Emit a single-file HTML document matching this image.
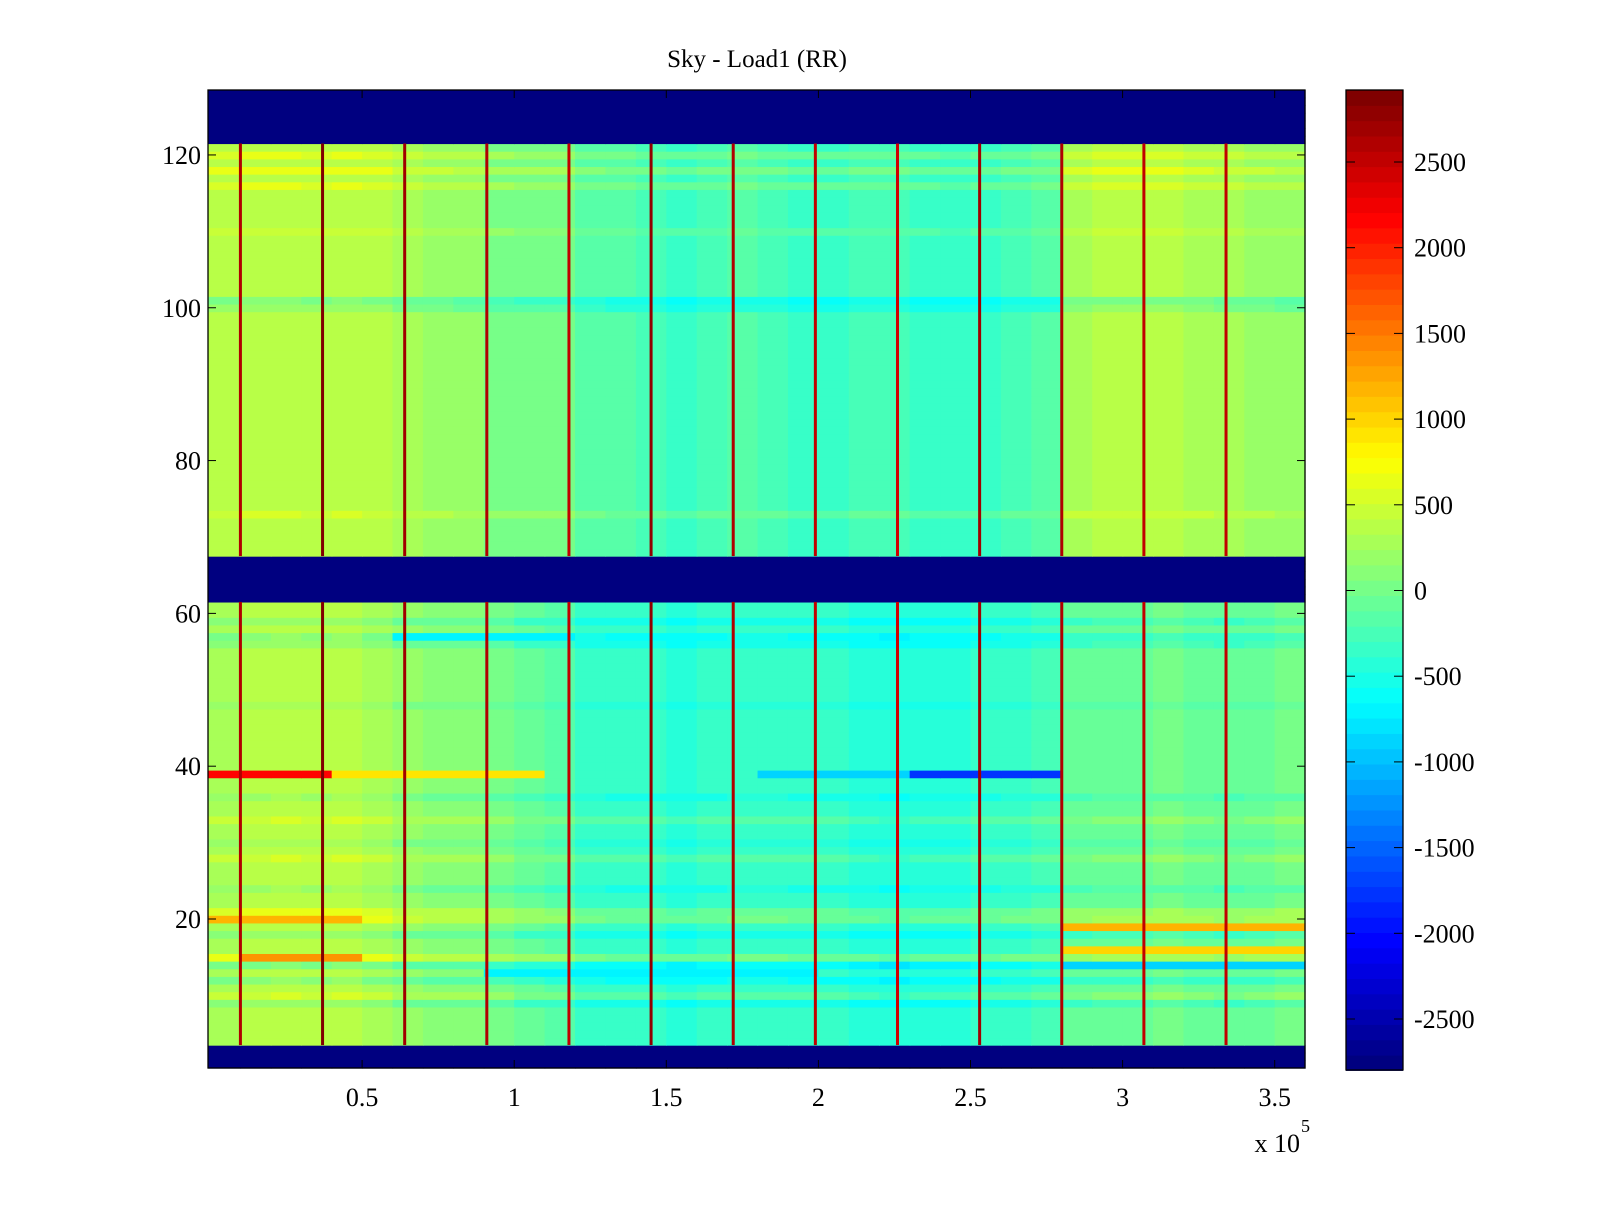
<!DOCTYPE html>
<html><head><meta charset="utf-8"><style>
html,body{margin:0;padding:0;background:#fff;}
svg text{font-family:"Liberation Serif",serif;fill:#000;}
</style></head><body>
<svg id="chart" width="1600" height="1200" viewBox="0 0 1600 1200" xmlns="http://www.w3.org/2000/svg">
<text x="757" y="67" font-size="25" text-anchor="middle">Sky - Load1 (RR)</text>
<g id="cells"></g>
<g id="spikes"></g>
<g id="axes"></g>
<g id="cbar"></g>
</svg>
<script>
// ---- data ----
const vmin = -2800, vmax = 2920;
const xBinCount = 36; // bins of 0.1e5 across 0..3.6e5
const colBiasUpper = [350,400,400,350,400,350,250,200,150,50,0,0,-150,-200,-250,-300,-250,-200,-250,-300,-300,-250,-250,-300,-350,-300,-250,-200,300,350,350,350,300,250,200,150];
const colBiasLower = [300,350,400,350,400,300,150,100,100,0,-100,-150,-300,-350,-350,-400,-350,-300,-300,-350,-350,-400,-450,-400,-400,-350,-300,-250,-100,-50,-50,0,-50,-100,-50,0];
const maskedRows = [[1,3],[62,67],[122,128]];
const rowBias = {120:200,118:250,116:200,110:100,101:-300,100:-200,73:150,59:-200,57:-250,56:-200,48:-100,36:-150,33:150,30:-100,28:150,24:-150,21:250,20:300,18:-200,15:300,14:-300,12:-250,10:150,9:-200};
const stripes = [ // [row, x0(1e5), x1(1e5), value]
 [39,0,0.4,2200],[39,0.4,1.1,900],[39,2.28,2.8,-1800],[39,1.8,2.28,-900],
 [20,0,0.55,1200],[15,0.1,0.5,1400],[19,2.85,3.6,1200],[16,2.85,3.6,1000],[14,2.85,3.6,-900],[13,0.9,2.0,-700],[57,0.6,1.2,-700]
];
const spikePositions = [0.1,0.37,0.64,0.91,1.18,1.45,1.72,1.99,2.26,2.53,2.8,3.07,3.34];
const spikeValues = [2600,2900,2700,2600,2500,2800,2600,2500,2400,2700,2600,2500,2500];
const yTicks = [20,40,60,80,100,120];
const xTicks = [0.5,1,1.5,2,2.5,3,3.5];
const cbTicks = [-2500,-2000,-1500,-1000,-500,0,500,1000,1500,2000,2500];

// ---- scales ----
const NS="http://www.w3.org/2000/svg";
const L=208,R=1305,T=90,B=1068;
const xs=v=>210+v*304.2;
const rowTop=r=>T+(128.5-(r+0.5))*((B-T)/128);
const rowH=(B-T)/128;
const cbY=v=>162+(2500-v)/500*85.7;
function jet(v){let t=(v-vmin)/(vmax-vmin);t=Math.max(0,Math.min(1,t));t=Math.floor(t*63.999)/63;
 const c=x=>Math.round(255*Math.max(0,Math.min(1,x)));
 return `rgb(${c(1.5-Math.abs(4*t-3))},${c(1.5-Math.abs(4*t-2))},${c(1.5-Math.abs(4*t-1))})`;}
function mk(tag,attrs,parent){const e=document.createElementNS(NS,tag);for(const k in attrs)e.setAttribute(k,attrs[k]);parent.appendChild(e);return e;}
const isMasked=r=>maskedRows.some(m=>r>=m[0]&&r<=m[1]);

const cells=document.getElementById('cells');
for(let r=1;r<=128;r++){
 for(let b=0;b<xBinCount;b++){
  let val;
  if(isMasked(r)) val=vmin;
  else{
   val=(r>=68?colBiasUpper[b]:colBiasLower[b])+(rowBias[r]||0);
   const xc=b*0.1+0.05;
   for(const s of stripes){if(s[0]===r&&xc>=s[1]&&xc<s[2])val=s[3];}
  }
  const x0=b===0?L:xs(b*0.1), x1=b===xBinCount-1?R:xs((b+1)*0.1);
  const e=mk('rect',{x:x0,y:rowTop(r),width:x1-x0+0.6,height:rowH+0.6,fill:jet(val)},cells);
  
  
 }
}
const sp=document.getElementById('spikes');
const segs=[[4,61],[68,121]];
spikePositions.forEach((p,i)=>{
 segs.forEach(s=>{
  const e=mk('rect',{x:xs(p)-1.5,y:rowTop(s[1]),width:3,height:rowTop(s[0])+rowH-rowTop(s[1]),fill:jet(spikeValues[i])},sp);
  
  
 });
});
// axes
const ax=document.getElementById('axes');
mk('rect',{x:L,y:T,width:R-L,height:B-T,fill:'none',stroke:'#000','stroke-width':1.3},ax);
yTicks.forEach(v=>{const y=rowTop(v)+rowH/2;
 mk('line',{x1:L,x2:L+8,y1:y,y2:y,stroke:'#000'},ax);mk('line',{x1:R-8,x2:R,y1:y,y2:y,stroke:'#000'},ax);
 const t=mk('text',{x:201,y:y+9,'font-size':26,'text-anchor':'end'},ax);t.textContent=v;
 });
xTicks.forEach(v=>{const x=xs(v);
 mk('line',{x1:x,x2:x,y1:B,y2:B-8,stroke:'#000'},ax);mk('line',{x1:x,x2:x,y1:T,y2:T+8,stroke:'#000'},ax);
 const t=mk('text',{x:x,y:1106,'font-size':26,'text-anchor':'middle'},ax);t.textContent=v;
 });
const ex=mk('text',{x:1300,y:1152,'font-size':26,'text-anchor':'end'},ax);ex.textContent='x 10';

const e5=mk('text',{x:1301,y:1132,'font-size':18},ax);e5.textContent='5';

// colorbar
const cb=document.getElementById('cbar');const CL=1346,CR=1403;
for(let i=0;i<64;i++){const v0=vmin+(vmax-vmin)*i/64,v1=vmin+(vmax-vmin)*(i+1)/64;
 const e=mk('rect',{x:CL,y:cbY(v1),width:CR-CL,height:cbY(v0)-cbY(v1)+0.5,fill:jet((v0+v1)/2)},cb);
 }
mk('rect',{x:CL,y:T,width:CR-CL,height:1070-T,fill:'none',stroke:'#000','stroke-width':1.3},cb);
cbTicks.forEach(v=>{const y=cbY(v);
 mk('line',{x1:CL,x2:CL+9,y1:y,y2:y,stroke:'#000'},cb);mk('line',{x1:CR-9,x2:CR,y1:y,y2:y,stroke:'#000'},cb);
 const t=mk('text',{x:1414,y:y+9,'font-size':26},cb);t.textContent=v;
 });
</script>
</body></html>
